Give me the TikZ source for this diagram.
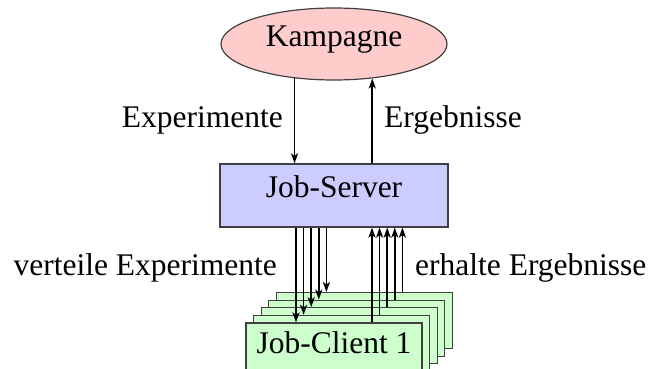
\documentclass[tikz,border=0pt]{standalone}
\usepackage{fontspec}
\setmainfont{Liberation Serif}
\usetikzlibrary{shapes.geometric,arrows.meta}
\definecolor{kampfill}{HTML}{FFCCCC}
\definecolor{serverfill}{HTML}{CCCCFF}
\definecolor{clientfill}{HTML}{CCFFCC}
\definecolor{edge}{HTML}{404040}
\begin{document}
\begin{tikzpicture}[x=1pt,y=-1pt,
  txt/.style={font=\fontsize{31.5}{36}\selectfont, text height=0.68em, text depth=0.22em},
  shapebox/.style={txt, draw=edge, line width=1.2pt, inner sep=0pt},
  kampagne/.style={shapebox, ellipse, fill=kampfill, minimum width=226pt, minimum height=72pt},
  server/.style={shapebox, rectangle, fill=serverfill, minimum width=228pt, minimum height=63pt},
  client/.style={shapebox, rectangle, fill=clientfill, minimum width=176pt, minimum height=56pt},
  lbl/.style={font=\fontsize{31.5}{36}\selectfont, inner sep=0pt},
  arr/.style={line width=1.6pt, -{Stealth[length=10pt,width=7pt,inset=2.5pt]}}
]
\useasboundingbox (0,0) rectangle (654,369);

% main nodes
\node[kampagne] (kamp) at (334,44) {Kampagne};
\node[server] (srv) at (334,195.5) {Job-Server};

% stack of clients, back to front
\foreach \i in {4,3,2,1}
  \node[client] (c\i) at ({334+7.6*\i},{351-7.6*\i}) {};
\node[client] (c0) at (334,351) {Job-Client 1};

% campaign <-> server
\draw[arr] (kamp.221.7) -- (kamp.221.7 |- srv.north);
\draw[arr] (kamp.318.3 |- srv.north) -- (kamp.318.3);

% server <-> clients
\foreach \i in {0,...,4} {
  \coordinate (dn\i) at ([xshift={-38+7.6*\i}]srv.south);
  \coordinate (up\i) at ([xshift={38+7.6*\i}]srv.south);
  \draw[arr] (dn\i) -- (dn\i |- c\i.north);
  \draw[arr] (up\i |- c\i.north) -- (up\i);
}

% labels
\node[lbl, anchor=base east] (lexp) at (283,128) {Experimente};
\node[lbl, anchor=base west] (lerg) at (384,128) {Ergebnisse};
\node[lbl, anchor=base east] (lvert) at (277,275) {verteile Experimente};
\node[lbl, anchor=base west] (lerh) at (415,275) {erhalte Ergebnisse};
\end{tikzpicture}
\end{document}
